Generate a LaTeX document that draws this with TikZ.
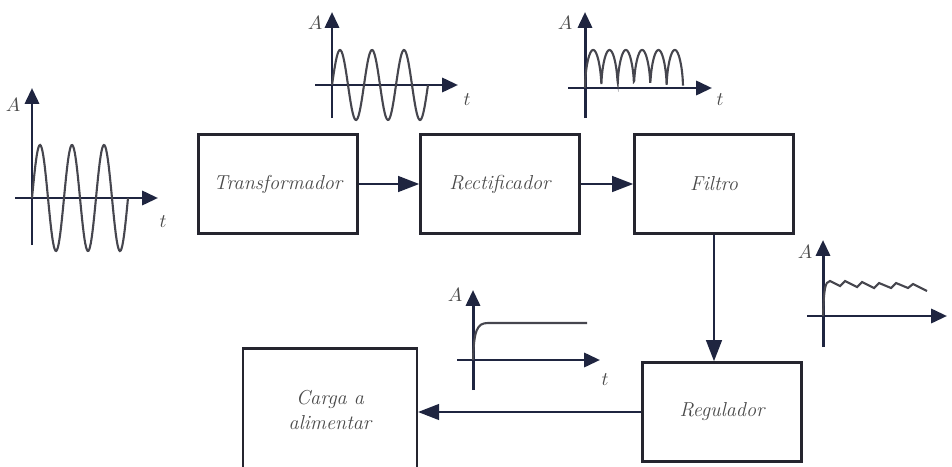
\documentclass[tikz,border=0pt]{standalone}
\usetikzlibrary{arrows.meta}
\definecolor{boxline}{HTML}{25252F}
\definecolor{axisblue}{HTML}{1F2540}
\definecolor{labelgray}{HTML}{4A4A4A}
\begin{document}
\begin{tikzpicture}[x=0.02cm, y=-0.02cm,
    block/.style={draw=boxline, line width=1.5pt, minimum width=3.18cm, minimum height=1.98cm,
        font=\fontsize{11.5}{14}\selectfont\itshape, text=labelgray, align=center},
    link/.style={draw=axisblue, line width=1.1pt, -{Triangle[length=12pt,width=9pt]}},
    axis/.style={draw=axisblue, line width=1.7pt, -{Triangle[length=9pt,width=8pt]}},
    wave/.style={draw=boxline!85, line width=1.2pt},
    axlabel/.style={font=\fontsize{11}{13}\selectfont, text=labelgray}]
    \useasboundingbox (0,0) rectangle (952,466);

    % Blocks
    \node[block] (trafo) at (278,184) {Transformador};
    \node[block] (rect) at (500,184) {Rectificador};
    \node[block] (filtro) at (714,184) {Filtro};
    \node[block] (reg) at (722,412) {Regulador};
    \node[block, line width=1.2pt, minimum width=3.48cm, minimum height=2.46cm] (carga) at (330,410) {Carga a\\alimentar};

    % Connectors
    \draw[link] (trafo) -- (rect);
    \draw[link] (rect) -- (filtro);
    \draw[link] (filtro.south) -- (filtro.south |- reg.north);
    \draw[link] (reg.west) -- (reg.west -| carga.east);

    % Input: sine wave
    \draw[axis] (32,245) -- (32,88);
    \draw[axis] (15,198) -- (158,198);
    \draw[wave] plot[domain=0:96, samples=120] ({32+\x},{198-53*sin(\x/32*360)});
    \node[axlabel] (a1) at (13,105) {$A$};
    \node[axlabel] (t1) at (163,222) {$t$};

    % After transformer: smaller sine wave
    \draw[axis] (332,118) -- (332,12);
    \draw[axis] (315,85) -- (458,85);
    \draw[wave] plot[domain=0:96, samples=120] ({332+\x},{85-35*sin(\x/32*360)});
    \node[axlabel] (a2) at (315,23) {$A$};
    \node[axlabel] (t2) at (467,100) {$t$};

    % After rectifier: full-wave rectified
    \draw[axis] (585,118) -- (585,12);
    \draw[axis] (568,88) -- (712,88);
    \draw[wave] plot[domain=0:98, samples=300] ({585+\x},{88-38*sqrt(abs(sin(\x/16.33*180)))});
    \node[axlabel] (a3) at (565,23) {$A$};
    \node[axlabel] (t3) at (720,100) {$t$};

    % After filter: ripple
    \draw[axis] (823,347) -- (823,240);
    \draw[axis] (807,316) -- (947,316);
    \draw[wave] (823,316) .. controls (824,288) and (825,282) .. (830,281)
        -- (840,286) -- (845,281) -- (857,287) -- (862,282) -- (874,288) -- (879,283)
        -- (891,288) -- (896,283) -- (908,288) -- (913,284) -- (927,291);
    \node[axlabel] (a4) at (805,252) {$A$};

    % After regulator: constant output
    \draw[axis] (473,390) -- (473,290);
    \draw[axis] (457,360) -- (600,360);
    \draw[wave] (473,360) .. controls (474,330) and (477,323) .. (488,323) -- (587,323);
    \node[axlabel] (a5) at (455,295) {$A$};
    \node[axlabel] (t5) at (605,380) {$t$};
\end{tikzpicture}
\end{document}
